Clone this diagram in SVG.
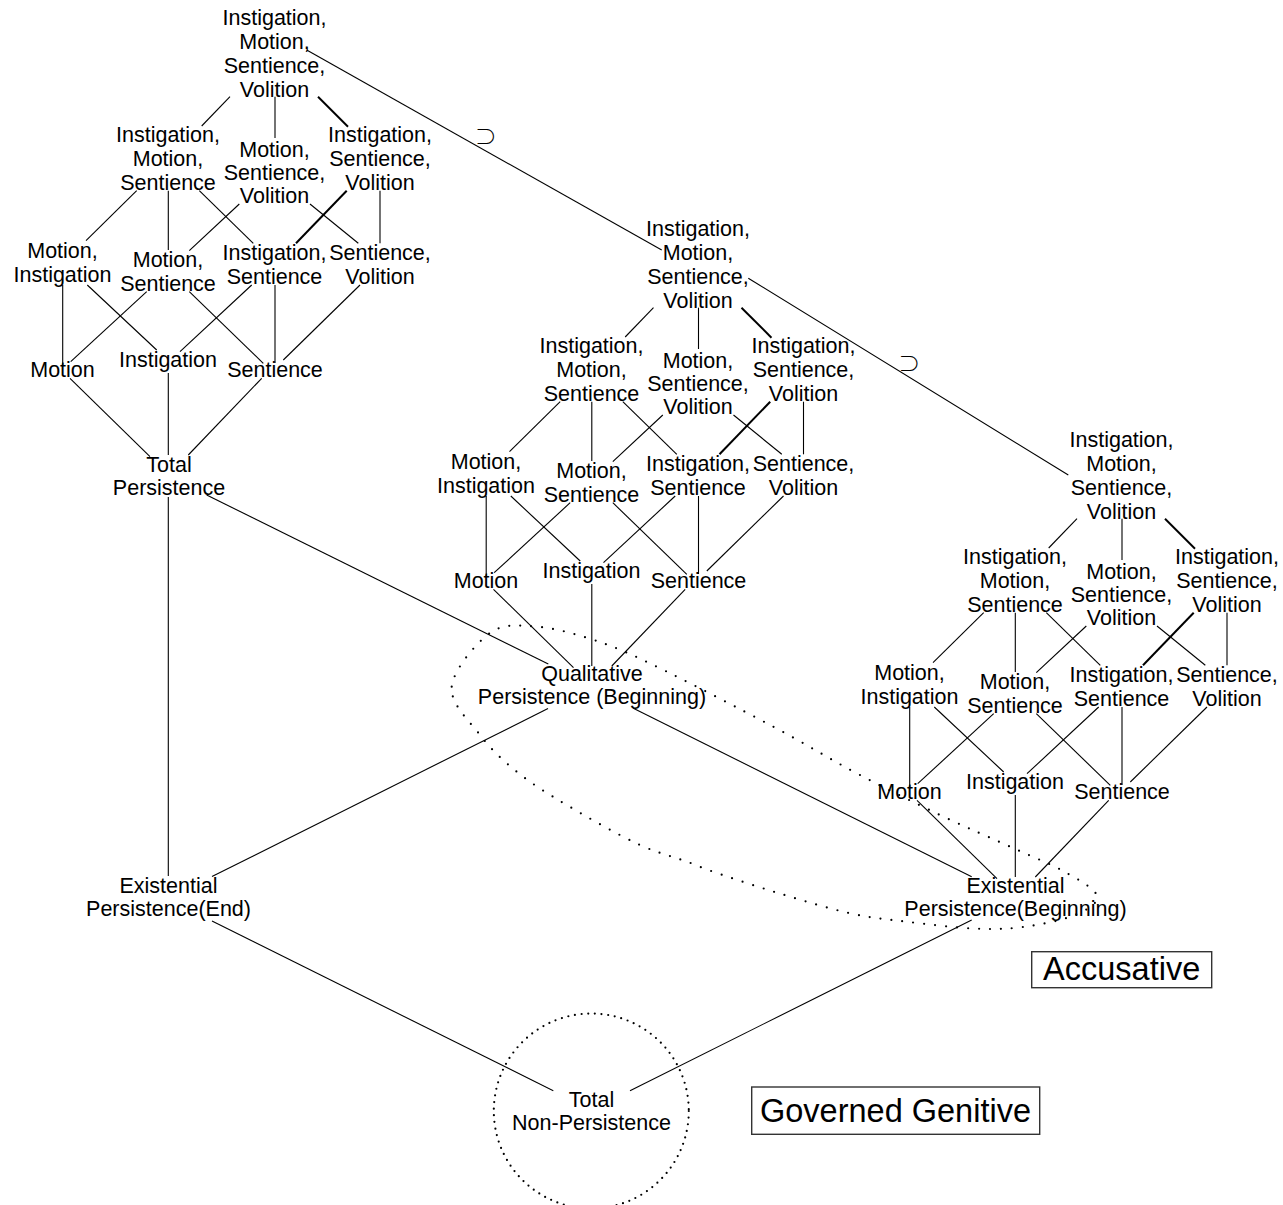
<svg xmlns="http://www.w3.org/2000/svg" width="1283" height="1205" viewBox="0 0 1283 1205">
  <style>
    .n { font-family: "Liberation Sans", Arial, sans-serif; font-size: 21.5px; text-anchor: middle; fill: #000; }
    .big { font-family: "Liberation Sans", Arial, sans-serif; font-size: 32.5px; text-anchor: middle; fill: #000; }
    .sym { font-family: "Noto Sans CJK JP", "DejaVu Sans", sans-serif; font-weight: 300; font-size: 22px; text-anchor: middle; fill: #000; }
    .e { stroke: #000; stroke-width: 1.1; fill: none; }
    .b { stroke: #000; stroke-width: 2; fill: none; }
    .dot-e { stroke: #000; stroke-width: 2.2; stroke-linecap: round; stroke-dasharray: 0 11; fill: none; }
    .dot-c { stroke: #000; stroke-width: 2.2; stroke-linecap: round; stroke-dasharray: 0 6.7; fill: none; }
    .box { fill: #fff; stroke: #333; stroke-width: 1.4; }
  </style>
  <defs>
    <!-- edges of one feature lattice, drawn at the position of the first lattice -->
    <g id="lattice-edges">
      <line class="e" x1="230" y1="96.7" x2="201.7" y2="126"/>
      <line class="e" x1="275" y1="96.7" x2="275" y2="138"/>
      <line class="b" x1="318" y1="96.7" x2="348" y2="126.7"/>
      <line class="e" x1="136.7" y1="190.7" x2="86" y2="240.7"/>
      <line class="e" x1="168.3" y1="190.7" x2="168.3" y2="250"/>
      <line class="e" x1="199.3" y1="190.7" x2="253.3" y2="243.3"/>
      <line class="e" x1="239.3" y1="204" x2="189.3" y2="250.7"/>
      <line class="e" x1="310" y1="204" x2="358.3" y2="243.3"/>
      <line class="b" x1="346.7" y1="190.7" x2="296" y2="243.3"/>
      <line class="e" x1="380" y1="190.7" x2="380" y2="243.3"/>
      <line class="e" x1="62.7" y1="285" x2="62.7" y2="365"/>
      <line class="e" x1="87.3" y1="285" x2="156.7" y2="350"/>
      <line class="e" x1="146.7" y1="291.7" x2="70.7" y2="361.7"/>
      <line class="e" x1="189.3" y1="291.7" x2="263.3" y2="363.3"/>
      <line class="e" x1="251.7" y1="285" x2="180" y2="351.7"/>
      <line class="e" x1="275" y1="285" x2="275" y2="363"/>
      <line class="e" x1="360" y1="285" x2="283.3" y2="360"/>
      <line class="e" x1="70" y1="378.3" x2="150" y2="456.7"/>
      <line class="e" x1="168.3" y1="373" x2="168.3" y2="455"/>
      <line class="e" x1="261.7" y1="378.3" x2="188.3" y2="455"/>
    </g>
  </defs>

  <!-- dotted groupings -->
  <g id="groupings">
    <path class="dot-e" d="M451.7,686.7 C453.4,669.7 476.1,643 490,633 C503.9,623 518.05,625.45 535,626.5 C551.95,627.55 572,632.9 591.7,639.3 C611.4,645.7 623,650.4 653.3,665 C683.6,679.6 739.4,708.65 773.3,726.7 C807.2,744.75 828.9,758.6 856.7,773.3 C884.5,788 913.95,802.55 940,815 C966.05,827.45 992.2,838.5 1013,848 C1033.8,857.5 1051,864 1065,872 C1079,880 1095.3,888.8 1097,896 C1098.7,903.2 1087.3,909.8 1075,915 C1062.7,920.2 1040,924.75 1023,927 C1006,929.25 992.4,929.4 973,928.5 C953.6,927.6 927.2,924.2 906.7,921.7 C886.2,919.2 871.45,918.1 850,913.3 C828.55,908.5 802.45,900.5 778,893 C753.55,885.5 726.3,876.3 703.3,868.3 C680.5,857.75 662.8,855.55 640,845 C617.2,834.45 587.25,817.2 566.7,805 C546.15,792.8 531.15,783.4 516.7,771.7 C502.25,760 490.8,749.2 480,735 C469.2,720.8 450,703.7 451.7,686.7 Z"/>
    <circle class="dot-c" cx="591.3" cy="1111" r="97.5"/>
  </g>

  <!-- connectors -->
  <g id="connectors">
    <use href="#lattice-edges"/>
    <use href="#lattice-edges" transform="translate(423.5,211)"/>
    <use href="#lattice-edges" transform="translate(847,422)"/>
    <line class="e" x1="306.7" y1="50" x2="661.7" y2="250"/>
    <line class="e" x1="748.3" y1="278.3" x2="1068.3" y2="475"/>
    <line class="e" x1="168.3" y1="497" x2="168.3" y2="876"/>
    <line class="e" x1="206.7" y1="495" x2="548.3" y2="664"/>
    <line class="e" x1="548" y1="708.5" x2="212" y2="876.6"/>
    <line class="e" x1="633.3" y1="708.3" x2="971.7" y2="876.7"/>
    <line class="e" x1="212" y1="921" x2="553.3" y2="1090.7"/>
    <line class="e" x1="971.7" y1="920" x2="630" y2="1090.7"/>
  </g>

  <!-- inclusion marks on the long connectors -->
  <g id="inclusion-marks">
    <text class="sym" x="485.8" y="144">⊃</text>
    <text class="sym" x="909.2" y="371.4">⊃</text>
  </g>

  <!-- lattice 1 -->
  <g id="lattice-1">
    <g id="l1-imsv"><text class="n" x="274.5" y="25"><tspan x="274.5">Instigation,</tspan><tspan x="274.5" dy="23.9">Motion,</tspan><tspan x="274.5" dy="23.9">Sentience,</tspan><tspan x="274.5" dy="23.9">Volition</tspan></text></g>
    <g id="l1-ims"><text class="n" x="168" y="141.7"><tspan x="168">Instigation,</tspan><tspan x="168" dy="24.1">Motion,</tspan><tspan x="168" dy="24.1">Sentience</tspan></text></g>
    <g id="l1-msv"><text class="n" x="274.5" y="156.7"><tspan x="274.5">Motion,</tspan><tspan x="274.5" dy="23.2">Sentience,</tspan><tspan x="274.5" dy="23.2">Volition</tspan></text></g>
    <g id="l1-isv"><text class="n" x="380" y="141.7"><tspan x="380">Instigation,</tspan><tspan x="380" dy="24.1">Sentience,</tspan><tspan x="380" dy="24.1">Volition</tspan></text></g>
    <g id="l1-mi"><text class="n" x="62.5" y="258"><tspan x="62.5">Motion,</tspan><tspan x="62.5" dy="24">Instigation</tspan></text></g>
    <g id="l1-ms"><text class="n" x="168" y="267"><tspan x="168">Motion,</tspan><tspan x="168" dy="23.5">Sentience</tspan></text></g>
    <g id="l1-is"><text class="n" x="274.5" y="260"><tspan x="274.5">Instigation,</tspan><tspan x="274.5" dy="23.5">Sentience</tspan></text></g>
    <g id="l1-sv"><text class="n" x="380" y="260"><tspan x="380">Sentience,</tspan><tspan x="380" dy="23.5">Volition</tspan></text></g>
    <g id="l1-m"><text class="n" x="62.5" y="377">Motion</text></g>
    <g id="l1-i"><text class="n" x="168" y="367">Instigation</text></g>
    <g id="l1-s"><text class="n" x="275" y="377">Sentience</text></g>
  </g>

  <!-- lattice 2 -->
  <g id="lattice-2" transform="translate(423.5,211)">
    <g id="l2-imsv"><text class="n" x="274.5" y="25"><tspan x="274.5">Instigation,</tspan><tspan x="274.5" dy="23.9">Motion,</tspan><tspan x="274.5" dy="23.9">Sentience,</tspan><tspan x="274.5" dy="23.9">Volition</tspan></text></g>
    <g id="l2-ims"><text class="n" x="168" y="141.7"><tspan x="168">Instigation,</tspan><tspan x="168" dy="24.1">Motion,</tspan><tspan x="168" dy="24.1">Sentience</tspan></text></g>
    <g id="l2-msv"><text class="n" x="274.5" y="156.7"><tspan x="274.5">Motion,</tspan><tspan x="274.5" dy="23.2">Sentience,</tspan><tspan x="274.5" dy="23.2">Volition</tspan></text></g>
    <g id="l2-isv"><text class="n" x="380" y="141.7"><tspan x="380">Instigation,</tspan><tspan x="380" dy="24.1">Sentience,</tspan><tspan x="380" dy="24.1">Volition</tspan></text></g>
    <g id="l2-mi"><text class="n" x="62.5" y="258"><tspan x="62.5">Motion,</tspan><tspan x="62.5" dy="24">Instigation</tspan></text></g>
    <g id="l2-ms"><text class="n" x="168" y="267"><tspan x="168">Motion,</tspan><tspan x="168" dy="23.5">Sentience</tspan></text></g>
    <g id="l2-is"><text class="n" x="274.5" y="260"><tspan x="274.5">Instigation,</tspan><tspan x="274.5" dy="23.5">Sentience</tspan></text></g>
    <g id="l2-sv"><text class="n" x="380" y="260"><tspan x="380">Sentience,</tspan><tspan x="380" dy="23.5">Volition</tspan></text></g>
    <g id="l2-m"><text class="n" x="62.5" y="377">Motion</text></g>
    <g id="l2-i"><text class="n" x="168" y="367">Instigation</text></g>
    <g id="l2-s"><text class="n" x="275" y="377">Sentience</text></g>
  </g>

  <!-- lattice 3 -->
  <g id="lattice-3" transform="translate(847,422)">
    <g id="l3-imsv"><text class="n" x="274.5" y="25"><tspan x="274.5">Instigation,</tspan><tspan x="274.5" dy="23.9">Motion,</tspan><tspan x="274.5" dy="23.9">Sentience,</tspan><tspan x="274.5" dy="23.9">Volition</tspan></text></g>
    <g id="l3-ims"><text class="n" x="168" y="141.7"><tspan x="168">Instigation,</tspan><tspan x="168" dy="24.1">Motion,</tspan><tspan x="168" dy="24.1">Sentience</tspan></text></g>
    <g id="l3-msv"><text class="n" x="274.5" y="156.7"><tspan x="274.5">Motion,</tspan><tspan x="274.5" dy="23.2">Sentience,</tspan><tspan x="274.5" dy="23.2">Volition</tspan></text></g>
    <g id="l3-isv"><text class="n" x="380" y="141.7"><tspan x="380">Instigation,</tspan><tspan x="380" dy="24.1">Sentience,</tspan><tspan x="380" dy="24.1">Volition</tspan></text></g>
    <g id="l3-mi"><text class="n" x="62.5" y="258"><tspan x="62.5">Motion,</tspan><tspan x="62.5" dy="24">Instigation</tspan></text></g>
    <g id="l3-ms"><text class="n" x="168" y="267"><tspan x="168">Motion,</tspan><tspan x="168" dy="23.5">Sentience</tspan></text></g>
    <g id="l3-is"><text class="n" x="274.5" y="260"><tspan x="274.5">Instigation,</tspan><tspan x="274.5" dy="23.5">Sentience</tspan></text></g>
    <g id="l3-sv"><text class="n" x="380" y="260"><tspan x="380">Sentience,</tspan><tspan x="380" dy="23.5">Volition</tspan></text></g>
    <g id="l3-m"><text class="n" x="62.5" y="377">Motion</text></g>
    <g id="l3-i"><text class="n" x="168" y="367">Instigation</text></g>
    <g id="l3-s"><text class="n" x="275" y="377">Sentience</text></g>
  </g>

  <!-- persistence nodes -->
  <g id="total-persistence"><text class="n" x="169" y="472"><tspan x="169">Total</tspan><tspan x="169" dy="23">Persistence</tspan></text></g>
  <g id="qualitative-persistence"><text class="n" x="592" y="681"><tspan x="592">Qualitative</tspan><tspan x="592" dy="23">Persistence (Beginning)</tspan></text></g>
  <g id="existential-end"><text class="n" x="168.5" y="893"><tspan x="168.5">Existential</tspan><tspan x="168.5" dy="23">Persistence(End)</tspan></text></g>
  <g id="existential-beginning"><text class="n" x="1015.5" y="893"><tspan x="1015.5">Existential</tspan><tspan x="1015.5" dy="23">Persistence(Beginning)</tspan></text></g>
  <g id="total-non-persistence"><text class="n" x="591.5" y="1107"><tspan x="591.5">Total</tspan><tspan x="591.5" dy="23">Non-Persistence</tspan></text></g>

  <!-- case labels -->
  <g id="label-accusative">
    <rect class="box" x="1031.7" y="951.7" width="180" height="36"/>
    <text class="big" x="1121.7" y="979.5">Accusative</text>
  </g>
  <g id="label-governed-genitive">
    <rect class="box" x="751.7" y="1087" width="288" height="47.3"/>
    <text class="big" x="895.5" y="1121.6">Governed Genitive</text>
  </g>
</svg>
